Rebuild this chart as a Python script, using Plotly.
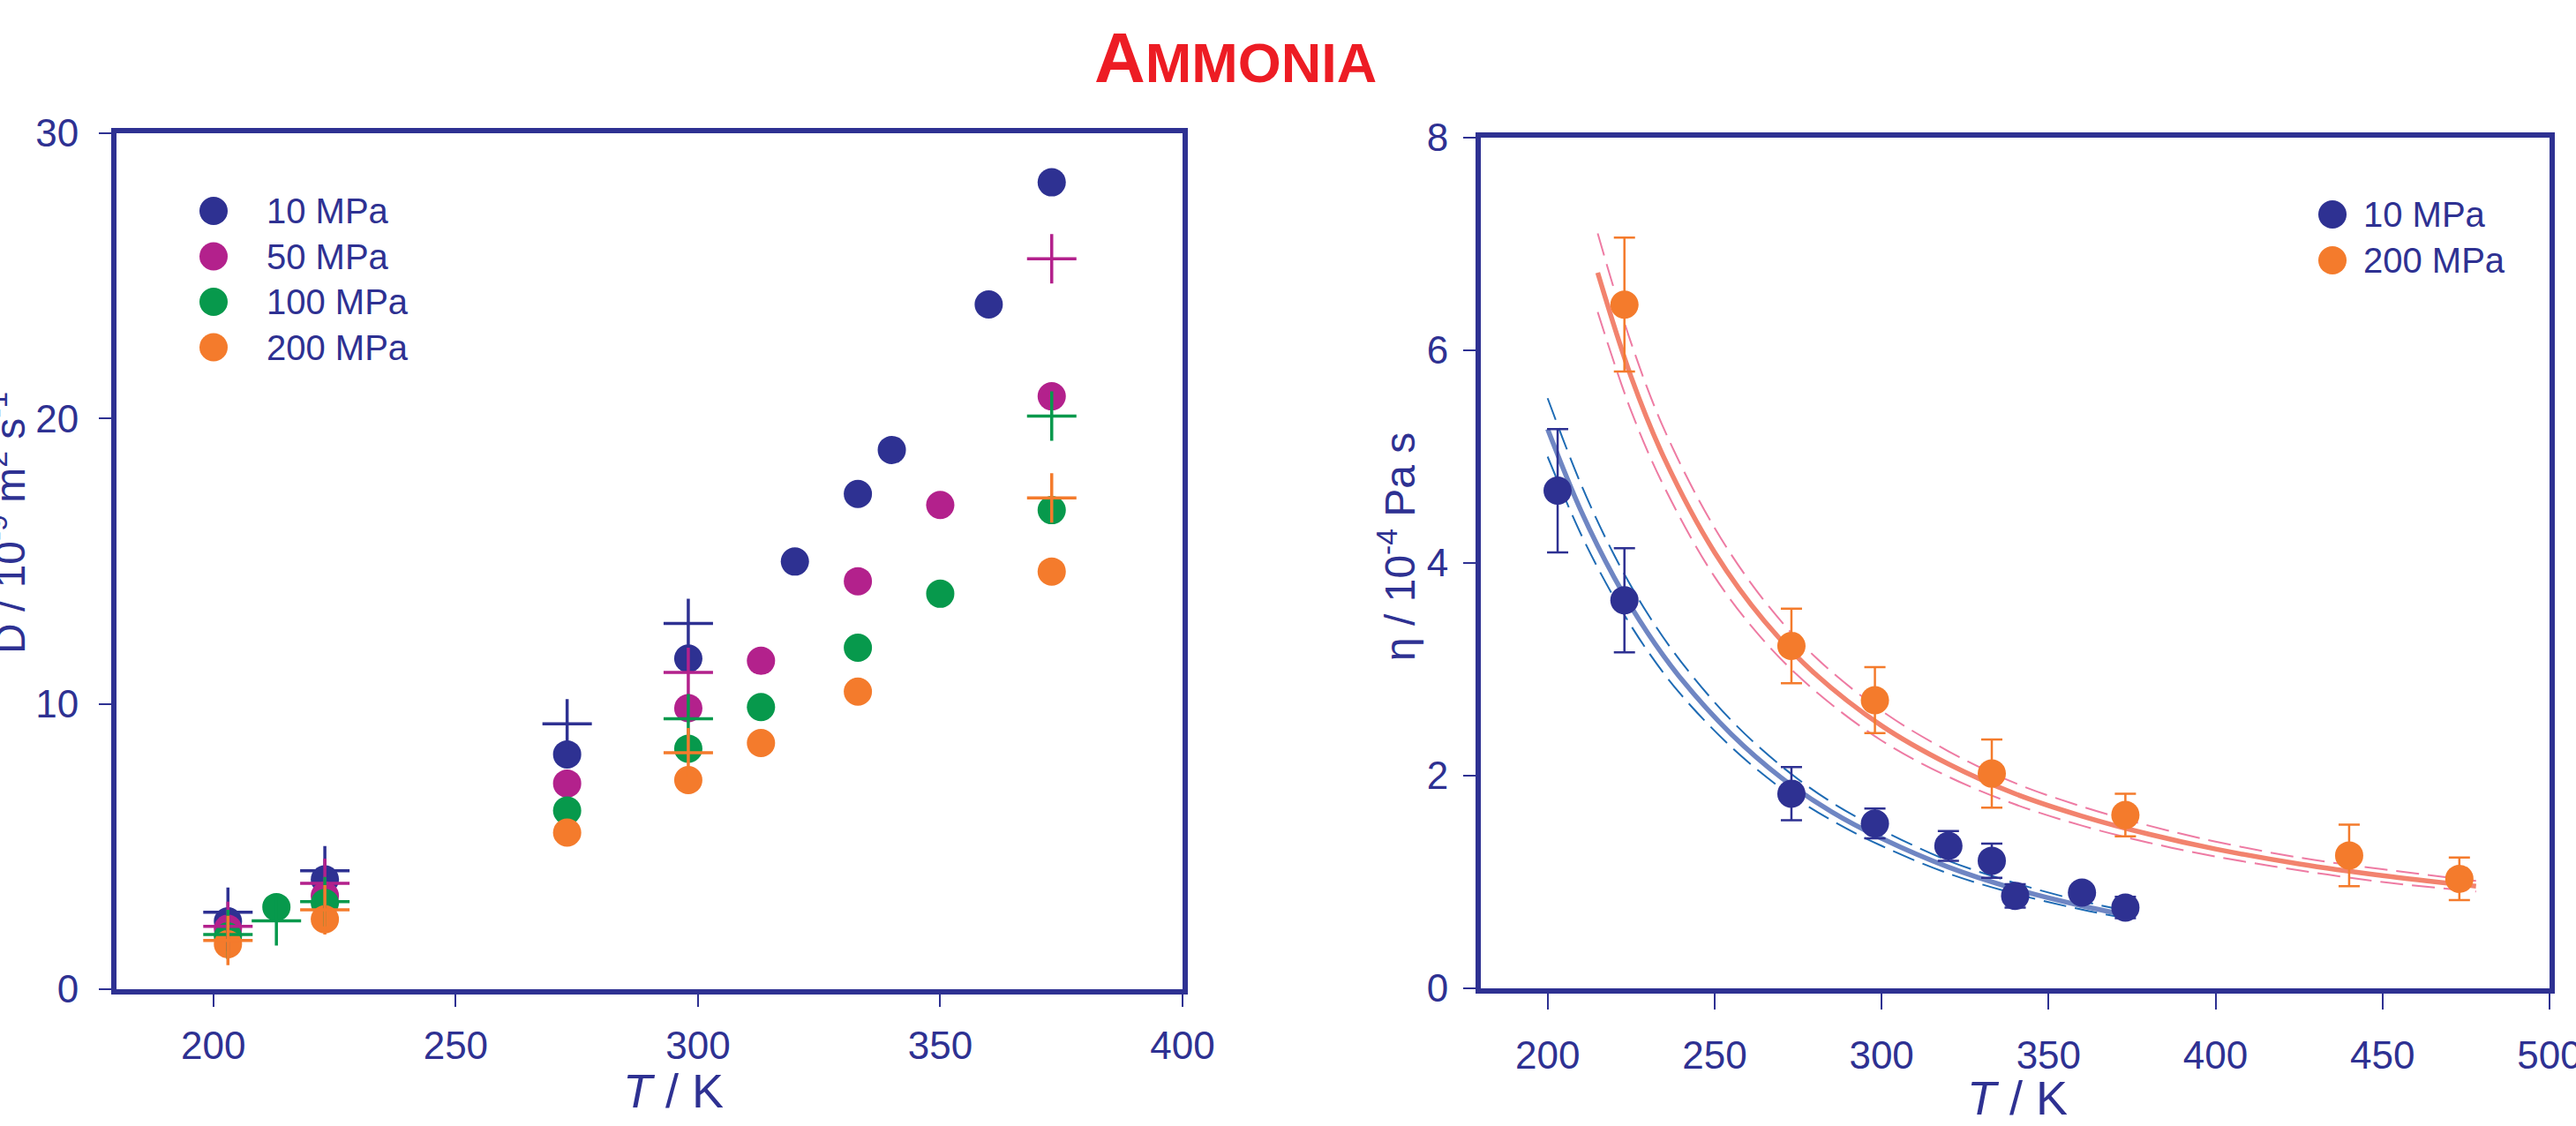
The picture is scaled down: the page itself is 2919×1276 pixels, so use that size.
import plotly.graph_objects as go

W, H = 2919, 1276
NAVY = "#2E3192"
MAG = "#B3218C"
GRN = "#07994C"
ORG = "#F47B2C"
RED = "#ED1C24"
FONT = "Liberation Sans, Arial, sans-serif"

# ---------------- Left panel: self-diffusion (D) ----------------
series_names = ["10 MPa", "50 MPa", "100 MPa", "200 MPa"]
series_colors = [NAVY, MAG, GRN, ORG]

T_10 = [203, 223, 273, 298, 320, 333, 340, 360, 373]
D_10 = [2.38, 3.85, 8.23, 11.59, 14.99, 17.36, 18.9, 24.0, 28.28]
T_50 = [203, 223, 273, 298, 313, 333, 350, 373]
D_50 = [2.12, 3.28, 7.21, 9.85, 11.51, 14.3, 16.97, 20.78]
T_100 = [203, 213, 223, 273, 298, 313, 333, 350, 373]
D_100 = [1.85, 2.88, 3.02, 6.26, 8.43, 9.89, 11.97, 13.86, 16.79]
T_200 = [203, 223, 273, 298, 313, 333, 373]
D_200 = [1.58, 2.45, 5.49, 7.33, 8.63, 10.43, 14.64]

# plus markers (second data set)
PT_10 = [203, 223, 273, 298]
PD_10 = [2.7, 4.15, 9.3, 12.82]
PT_50 = [203, 223, 298, 373]
PD_50 = [2.2, 3.71, 11.1, 25.6]
PT_100 = [203, 213, 223, 298, 373]
PD_100 = [1.92, 2.4, 3.07, 9.48, 20.09]
PT_200 = [203, 223, 298, 373]
PD_200 = [1.71, 2.78, 8.29, 17.22]

# ---------------- Right panel: viscosity ----------------
VT_10 = [203, 223, 273, 298, 320, 333, 340, 360, 373]
V_10 = [4.68, 3.65, 1.83, 1.55, 1.34, 1.2, 0.87, 0.9, 0.76]
VE_10 = [0.58, 0.49, 0.25, 0.14, 0.14, 0.16, 0.11, 0.07, 0.1]
VT_200 = [223, 273, 298, 333, 373, 440, 473]
V_200 = [6.43, 3.22, 2.71, 2.02, 1.63, 1.25, 1.03]
VE_200 = [0.63, 0.35, 0.31, 0.32, 0.2, 0.29, 0.2]

# fitted curves
FT_10 = [200, 210, 220, 230, 240, 255, 270, 285, 300, 320, 340, 360, 375]
F_10 = [5.26, 4.49, 3.86, 3.34, 2.91, 2.39, 1.98, 1.66, 1.41, 1.14, 0.935, 0.776, 0.68]
F_10_hi = [5.55, 4.74, 4.07, 3.52, 3.07, 2.52, 2.09, 1.75, 1.49, 1.20, 0.99, 0.82, 0.72]
F_10_lo = [5.00, 4.27, 3.67, 3.17, 2.76, 2.27, 1.88, 1.58, 1.34, 1.08, 0.89, 0.74, 0.65]
FT_200 = [215, 225, 235, 250, 265, 280, 300, 320, 340, 360, 380, 400, 425, 450, 478]
F_200 = [6.73, 5.75, 4.98, 4.10, 3.45, 2.96, 2.47, 2.11, 1.83, 1.62, 1.45, 1.31, 1.17, 1.06, 0.96]
F_200_hi = [7.10, 6.07, 5.25, 4.33, 3.64, 3.12, 2.61, 2.23, 1.93, 1.71, 1.53, 1.38, 1.23, 1.12, 1.01]
F_200_lo = [6.36, 5.43, 4.71, 3.87, 3.26, 2.80, 2.33, 1.99, 1.73, 1.53, 1.37, 1.24, 1.11, 1.00, 0.91]

right_names = ["10 MPa", "200 MPa"]
right_colors = [NAVY, ORG]

fig = go.Figure()

circ = [(T_10, D_10), (T_50, D_50), (T_100, D_100), (T_200, D_200)]
for (tx, dy), nm, c in zip(circ, series_names, series_colors):
    fig.add_trace(go.Scatter(x=tx, y=dy, mode="markers", name=nm, showlegend=False,
                             marker=dict(symbol="circle", size=32, color=c, line=dict(width=0)),
                             xaxis="x", yaxis="y"))
plus = [(PT_10, PD_10), (PT_50, PD_50), (PT_100, PD_100), (PT_200, PD_200)]
for (tx, dy), nm, c in zip(plus, series_names, series_colors):
    fig.add_trace(go.Scatter(x=tx, y=dy, mode="markers", name=nm, showlegend=False,
                             marker=dict(symbol="cross-thin", size=40, color=c,
                                         line=dict(width=3.5, color=c)),
                             xaxis="x", yaxis="y"))

def curve(x, y, color, width, dash):
    fig.add_trace(go.Scatter(x=x, y=y, mode="lines", showlegend=False,
                             line=dict(color=color, width=width, dash=dash, shape="spline"),
                             xaxis="x2", yaxis="y2", hoverinfo="skip"))

curve(FT_10, F_10_hi, "#1E6BB4", 2, "26px,10px")
curve(FT_10, F_10_lo, "#1E6BB4", 2, "26px,10px")
curve(FT_10, F_10, "#6F86C3", 5.5, "solid")
curve(FT_200, F_200_hi, "#EE7BA3", 2, "26px,10px")
curve(FT_200, F_200_lo, "#EE7BA3", 2, "26px,10px")
curve(FT_200, F_200, "#F2836E", 5.5, "solid")

for tx, vy, ve, nm, c in [(VT_10, V_10, VE_10, right_names[0], NAVY),
                          (VT_200, V_200, VE_200, right_names[1], ORG)]:
    fig.add_trace(go.Scatter(x=tx, y=vy, mode="markers", name=nm, showlegend=False,
                             error_y=dict(type="data", array=ve, visible=True, color=c,
                                          thickness=2.5, width=12),
                             marker=dict(symbol="circle", size=32, color=c, line=dict(width=0)),
                             xaxis="x2", yaxis="y2"))

def px_x(p):
    return p / W

def px_y(p):
    return 1 - p / H

axis_common = dict(showline=True, linecolor=NAVY, linewidth=6, mirror=True,
                   ticks="outside", tickcolor=NAVY, tickwidth=2, showgrid=False,
                   zeroline=False, automargin=False, ticklabeloverflow="allow",
                   tickfont=dict(family=FONT, size=44, color=NAVY))

layout = dict(
    width=W, height=H, autosize=False,
    margin=dict(l=0, r=0, t=0, b=0, pad=0, autoexpand=False),
    paper_bgcolor="white", plot_bgcolor="white", showlegend=False,
    xaxis=dict(axis_common, domain=[px_x(132), px_x(1340)], range=[180, 400],
               tickvals=[200, 250, 300, 350, 400], ticklen=14, ticklabelstandoff=6, anchor="y"),
    yaxis=dict(axis_common, domain=[px_y(1121), px_y(151)], range=[0, 30],
               tickvals=[0, 10, 20, 30], ticklen=14, ticklabelstandoff=14, anchor="x"),
    xaxis2=dict(axis_common, domain=[px_x(1678), px_x(2889)], range=[180, 500],
                tickvals=[200, 250, 300, 350, 400, 450, 500], ticklen=18,
                ticklabelstandoff=14, anchor="y2"),
    yaxis2=dict(axis_common, domain=[px_y(1120), px_y(156)], range=[0, 8],
                tickvals=[0, 2, 4, 6, 8], ticklen=14, ticklabelstandoff=8, anchor="x2"),
)
fig.update_layout(**layout)

ann = []
shapes = []
ann.append(dict(text="<b><span style='font-size:80px'>A</span>MMONIA</b>", x=px_x(1400), y=px_y(66),
                xref="paper", yref="paper", showarrow=False, xanchor="center", yanchor="middle",
                font=dict(family=FONT, size=63, color=RED)))
ann.append(dict(text="<i>T</i> / K", x=px_x(763), y=px_y(1236), xref="paper", yref="paper",
                showarrow=False, xanchor="center", yanchor="middle",
                font=dict(family=FONT, size=54, color=NAVY)))
ann.append(dict(text="<i>T</i> / K", x=px_x(2286), y=px_y(1244), xref="paper", yref="paper",
                showarrow=False, xanchor="center", yanchor="middle",
                font=dict(family=FONT, size=54, color=NAVY)))
ann.append(dict(text="D / 10<sup>-9</sup> m<sup>2</sup> s<sup>-1</sup>", x=px_x(40), y=px_y(593),
                xref="paper", yref="paper", showarrow=False, xanchor="right", yanchor="middle",
                textangle=-90, font=dict(family=FONT, size=48, color=NAVY)))
ann.append(dict(text="η / 10<sup>-4</sup> Pa s", x=px_x(1615), y=px_y(620),
                xref="paper", yref="paper", showarrow=False, xanchor="right", yanchor="middle",
                textangle=-90, font=dict(family=FONT, size=48, color=NAVY)))

R = 16
def legend_item(cx, cy, color, label, tx):
    shapes.append(dict(type="circle", xref="paper", yref="paper",
                       x0=px_x(cx - R), x1=px_x(cx + R), y0=px_y(cy + R), y1=px_y(cy - R),
                       fillcolor=color, line=dict(width=0)))
    ann.append(dict(text=label, x=px_x(tx), y=px_y(cy), xref="paper", yref="paper",
                    showarrow=False, xanchor="left", yanchor="middle",
                    font=dict(family=FONT, size=40, color=NAVY)))

for i, (nm, c) in enumerate(zip(series_names, series_colors)):
    legend_item(242, 239 + 51.5 * i, c, nm, 300)
for i, (nm, c) in enumerate(zip(right_names, right_colors)):
    legend_item(2643, 243 + 52 * i, c, nm, 2676)

fig.update_layout(annotations=ann, shapes=shapes)

fig.write_html("out.html", config={"displayModeBar": False},
               post_script="document.body.style.margin='0';")
